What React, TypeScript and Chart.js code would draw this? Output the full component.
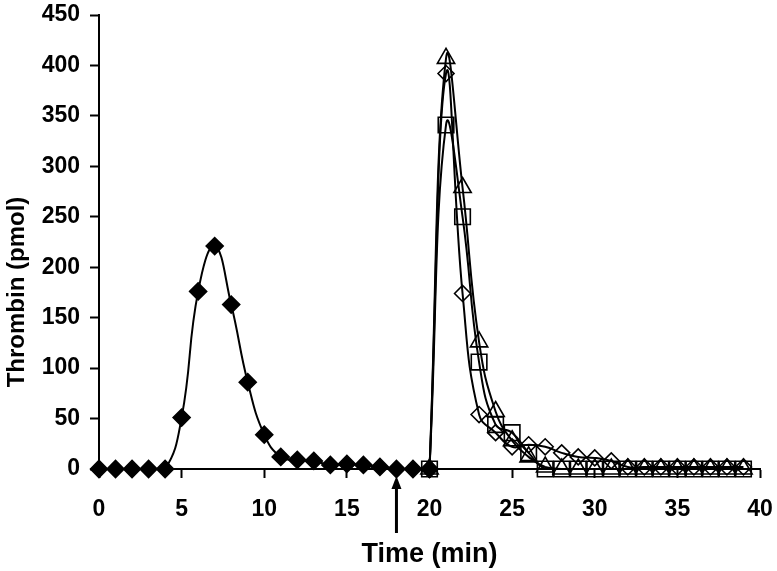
import React, { useEffect, useRef } from "react";
import { Chart, registerables } from "chart.js";

Chart.register(...registerables);

// First run (filled diamonds), time in minutes 0..20
const timeFirst = [0, 1, 2, 3, 4, 5, 6, 7, 8, 9, 10, 11, 12, 13, 14, 15, 16, 17, 18, 19, 20];
const thrombinFirst = [0, 0, 0, 0, 0, 51, 176, 221, 163, 86, 34, 12, 9, 8, 4, 5, 4, 2, 0, 0, 0];

// Second generation, time 20..39
const timeSecond = [20, 21, 22, 23, 24, 25, 26, 27, 28, 29, 30, 31, 32, 33, 34, 35, 36, 37, 38, 39];
const thrombinDiamond = [0, 392, 174, 54, 36, 22, 24, 22, 16, 12, 11, 8, 2, 2, 2, 2, 2, 2, 2, 2];
const thrombinSquare = [0, 341, 250, 106, 44, 36, 16, 0, 0, 0, 0, 0, 0, 0, 0, 0, 0, 0, 0, 0];
const thrombinTriangle = [0, 407, 279, 126, 57, 28, 12, 2, 0, 0, 0, 0, 0, 0, 0, 0, 0, 0, 0, 0];

const xTicks = [0, 5, 10, 15, 20, 25, 30, 35, 40];
const yTicks = [0, 50, 100, 150, 200, 250, 300, 350, 400, 450];
const ARROW_TIME = 18;

const X_TITLE = "Time (min)";
const Y_TITLE = "Thrombin (pmol)";

const FONT = "'Liberation Sans', Arial, sans-serif";

function pts(xs: number[], ys: number[]) {
  return xs.map((x, i) => ({ x, y: ys[i] }));
}

const annotationPlugin = {
  id: "annot",
  afterDraw(chart: any) {
    const { ctx, chartArea, scales } = chart;
    const x = scales.x.getPixelForValue(ARROW_TIME);
    const tipY = chartArea.bottom + 7;
    const endY = chartArea.bottom + 64;
    ctx.save();
    ctx.strokeStyle = "#000";
    ctx.fillStyle = "#000";
    ctx.lineWidth = 3;
    ctx.beginPath();
    ctx.moveTo(x, tipY + 8);
    ctx.lineTo(x, endY);
    ctx.stroke();
    ctx.beginPath();
    ctx.moveTo(x, tipY);
    ctx.lineTo(x - 5, tipY + 13);
    ctx.lineTo(x + 5, tipY + 13);
    ctx.closePath();
    ctx.fill();
    // y-axis title
    ctx.font = `bold 24px ${FONT}`;
    ctx.textAlign = "center";
    ctx.textBaseline = "middle";
    ctx.translate(17, 292);
    ctx.rotate(-Math.PI / 2);
    ctx.fillText(Y_TITLE, 0, 0);
    ctx.restore();
  },
};

export default function App() {
  const ref = useRef<HTMLCanvasElement>(null);
  useEffect(() => {
    if (!ref.current) return;
    const lineCommon = {
      borderColor: "#000",
      borderWidth: 2,
      tension: 0.45,
      pointBorderColor: "#000",
      pointBorderWidth: 1.6,
      clip: false as any,
      showLine: true,
    };
    const chart = new Chart(ref.current, {
      type: "scatter",
      data: {
        datasets: [
          {
            ...lineCommon,
            data: pts(timeFirst, thrombinFirst),
            pointStyle: "rectRot",
            pointRadius: 8.5,
            pointBackgroundColor: "#000",
          },
          {
            ...lineCommon,
            data: pts(timeSecond, thrombinDiamond),
            pointStyle: "rectRot",
            pointRadius: 8,
            pointBackgroundColor: "rgba(0,0,0,0)",
          },
          {
            ...lineCommon,
            data: pts(timeSecond, thrombinSquare),
            pointStyle: "rect",
            pointRadius: 11,
            pointBackgroundColor: "rgba(0,0,0,0)",
          },
          {
            ...lineCommon,
            data: pts(timeSecond, thrombinTriangle),
            pointStyle: "triangle",
            pointRadius: 10,
            pointBackgroundColor: "rgba(0,0,0,0)",
          },
        ] as any,
      },
      options: {
        animation: false,
        responsive: false,
        maintainAspectRatio: false,
        layout: { padding: { top: 15, right: 17, left: 0, bottom: 0 } },
        plugins: { legend: { display: false }, tooltip: { enabled: false } },
        scales: {
          x: {
            type: "linear",
            min: 0,
            max: 40,
            afterBuildTicks: (s: any) => {
              s.ticks = xTicks.map((v) => ({ value: v }));
            },
            afterFit: (s: any) => {
              s.height = 102;
              s.paddingLeft = 0;
              s.paddingRight = 0;
            },
            border: { color: "#000", width: 2 },
            grid: { drawOnChartArea: false, drawTicks: true, tickLength: 9, tickWidth: 2, tickColor: "#000" },
            ticks: { color: "#000", padding: 18, font: { family: FONT, size: 23, weight: "bold" } },
            title: {
              display: true,
              text: X_TITLE,
              color: "#000",
              padding: { top: 0, bottom: 0 },
              font: { family: FONT, size: 27, weight: "bold" },
            },
          },
          y: {
            type: "linear",
            min: 0,
            max: 450,
            afterBuildTicks: (s: any) => {
              s.ticks = yTicks.map((v) => ({ value: v }));
            },
            afterFit: (s: any) => {
              s.width = 99;
              s.paddingTop = 0;
              s.paddingBottom = 0;
            },
            border: { color: "#000", width: 2 },
            grid: { drawOnChartArea: false, drawTicks: true, tickLength: 9, tickWidth: 2, tickColor: "#000" },
            ticks: { color: "#000", padding: 10, font: { family: FONT, size: 23, weight: "bold" } },
          },
        },
      } as any,
      plugins: [annotationPlugin],
    });
    return () => chart.destroy();
  }, []);
  return (
    <div style={{ position: "fixed", left: 0, top: 0, width: 777, height: 571, background: "#fff" }}>
      <canvas ref={ref} width={777} height={571} style={{ width: 777, height: 571 }} />
    </div>
  );
}
